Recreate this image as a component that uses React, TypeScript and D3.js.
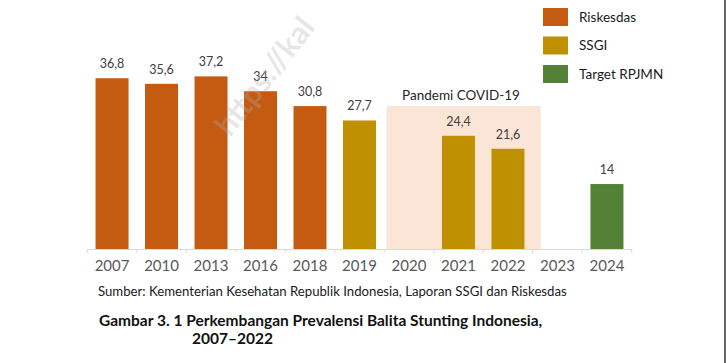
import React, { useEffect, useRef } from 'react';
import * as d3 from 'd3';

const years = ['2007', '2010', '2013', '2016', '2018', '2019', '2020', '2021', '2022', '2023', '2024'];
const values: (number | null)[] = [36.8, 35.6, 37.2, 34, 30.8, 27.7, null, 24.4, 21.6, null, 14];
const sources = ['Riskesdas', 'Riskesdas', 'Riskesdas', 'Riskesdas', 'Riskesdas', 'SSGI', '', 'SSGI', 'SSGI', '', 'Target RPJMN'];
const legendItems = ['Riskesdas', 'SSGI', 'Target RPJMN'];
const colors: Record<string, string> = {
  'Riskesdas': '#C55A11',
  'SSGI': '#BF9000',
  'Target RPJMN': '#538135',
};

const W = 726;
const H = 363;
const FONT = 'Lato, "Open Sans", sans-serif';

const App: React.FC = () => {
  const ref = useRef<SVGSVGElement>(null);

  useEffect(() => {
    const svg = d3.select(ref.current);
    svg.selectAll('*').remove();

    const x = d3.scaleBand().domain(years).range([87.3, 631.7]).padding(0);
    const y = d3.scaleLinear().domain([0, 40]).range([249, 63.4]);
    const bw = x.bandwidth();
    const barW = 33;

    // pandemic shading
    svg.append('rect')
      .attr('x', x('2020')! + 2.3)
      .attr('y', 106)
      .attr('width', x('2023')! + 8 - (x('2020')! + 2.3))
      .attr('height', 249 - 106)
      .attr('fill', '#FBE5D6');

    svg.append('text')
      .attr('x', 461)
      .attr('y', 100)
      .attr('text-anchor', 'middle')
      .attr('font-family', FONT)
      .attr('font-size', 13.5)
      .attr('fill', '#262626')
      .text('Pandemi COVID-19');

    const data = years.map((yr, i) => ({ yr, v: values[i], s: sources[i] })).filter(d => d.v != null);

    svg.selectAll('.bar')
      .data(data)
      .enter()
      .append('rect')
      .attr('class', 'bar')
      .attr('x', d => x(d.yr)! + bw / 2 - barW / 2)
      .attr('y', d => y(d.v as number))
      .attr('width', barW)
      .attr('height', d => y(0) - y(d.v as number))
      .attr('fill', d => colors[d.s]);

    svg.selectAll('.lbl')
      .data(data)
      .enter()
      .append('text')
      .attr('class', 'lbl')
      .attr('x', d => x(d.yr)! + bw / 2)
      .attr('y', d => y(d.v as number) - 10)
      .attr('text-anchor', 'middle')
      .attr('font-family', FONT)
      .attr('font-size', 12.5)
      .attr('fill', '#404040')
      .text(d => String(d.v).replace('.', ','));

    // watermark (faint, over the marks)
    svg.append('text')
      .attr('transform', 'translate(230,138) rotate(-52)')
      .attr('font-family', FONT)
      .attr('font-weight', 'bold')
      .attr('font-size', 31)
      .attr('fill', '#b0b0b0')
      .attr('opacity', 0.3)
      .text('https://kal');

    // axis
    const axis = svg.append('g')
      .attr('transform', 'translate(0,249)')
      .call(d3.axisBottom(x).tickSize(0).tickPadding(11));
    axis.select('.domain').attr('stroke', '#d9d9d9').attr('stroke-width', 1.2);
    axis.selectAll('.tick text')
      .attr('font-family', FONT)
      .attr('font-size', 15)
      .attr('fill', '#595959');
    axis.selectAll('.sep')
      .data(years.concat(['end']))
      .enter()
      .append('line')
      .attr('class', 'sep')
      .attr('x1', (d, i) => i < years.length ? x(d)! : x(years[years.length - 1])! + bw)
      .attr('x2', (d, i) => i < years.length ? x(d)! : x(years[years.length - 1])! + bw)
      .attr('y1', 0)
      .attr('y2', 4)
      .attr('stroke', '#d9d9d9');

    // legend
    const leg = svg.selectAll('.leg')
      .data(legendItems)
      .enter()
      .append('g')
      .attr('class', 'leg')
      .attr('transform', (d, i) => `translate(543,${8 + i * 28.5})`);
    leg.append('rect')
      .attr('width', 25)
      .attr('height', 18)
      .attr('fill', d => colors[d]);
    leg.append('text')
      .attr('x', 36)
      .attr('y', 9)
      .attr('dy', '0.35em')
      .attr('font-family', FONT)
      .attr('font-size', 13.5)
      .attr('fill', '#1a1a1a')
      .text(d => d);

    // source + caption
    svg.append('text')
      .attr('x', 98)
      .attr('y', 296)
      .attr('font-family', FONT)
      .attr('font-size', 13.2)
      .attr('fill', '#1a1a1a')
      .text('Sumber: Kementerian Kesehatan Republik Indonesia, Laporan SSGI dan Riskesdas');

    svg.append('text')
      .attr('x', 99)
      .attr('y', 326)
      .attr('font-family', FONT)
      .attr('font-weight', 'bold')
      .attr('font-size', 15.5)
      .attr('fill', '#111')
      .text('Gambar 3. 1 Perkembangan Prevalensi Balita Stunting Indonesia,');
    svg.append('text')
      .attr('x', 192)
      .attr('y', 344)
      .attr('font-family', FONT)
      .attr('font-weight', 'bold')
      .attr('font-size', 15.5)
      .attr('fill', '#111')
      .text('2007–2022');

    // right border
    svg.append('line')
      .attr('x1', 725)
      .attr('x2', 725)
      .attr('y1', 0)
      .attr('y2', H)
      .attr('stroke', '#333')
      .attr('stroke-width', 1.5);
  }, []);

  return (
    <svg
      ref={ref}
      width={W}
      height={H}
      style={{ position: 'absolute', left: 0, top: 0, background: '#fff' }}
    />
  );
};

export default App;
